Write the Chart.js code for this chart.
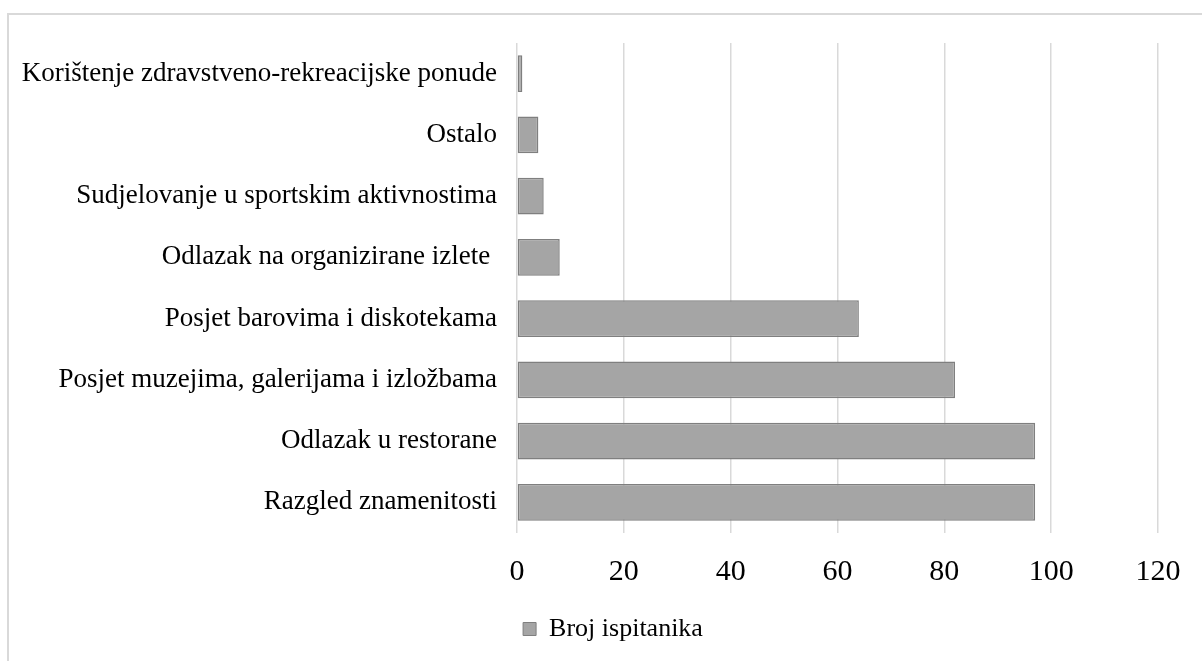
<!DOCTYPE html>
<html>
<head>
<meta charset="utf-8">
<script src="https://cdn.jsdelivr.net/npm/chart.js@4/dist/chart.umd.min.js"></script>
<style>
  html, body { margin: 0; padding: 0; background: #ffffff; overflow: hidden; }
  #frame { position: absolute; left: 7px; top: 13px; width: 1400px; height: 900px; border: 2px solid #d9d9d9; box-sizing: border-box; }
  #wrap { position: absolute; left: 0; top: 0; width: 1202px; height: 661px; }
</style>
</head>
<body>
<div id="frame"></div>
<div id="wrap"><canvas id="c" width="1202" height="661"></canvas></div>
<script>
const categories = [
  "Korištenje zdravstveno-rekreacijske ponude",
  "Ostalo",
  "Sudjelovanje u sportskim aktivnostima",
  "Odlazak na organizirane izlete ",
  "Posjet barovima i diskotekama",
  "Posjet muzejima, galerijama i izložbama",
  "Odlazak u restorane",
  "Razgled znamenitosti"
];
const seriesName = "Broj ispitanika";
const values = [1, 4, 5, 8, 64, 82, 97, 97];
const xTicks = [0, 20, 40, 60, 80, 100, 120];

const serif = "'Liberation Serif', 'Times New Roman', serif";

const legendShift = {
  id: 'legendShift',
  afterLayout(chart) {
    const l = chart.legend;
    if (l) { l.left += 34; l.right += 34; }
  }
};

new Chart(document.getElementById('c'), {
  type: 'bar',
  data: {
    labels: categories,
    datasets: [{
      label: seriesName,
      data: values,
      backgroundColor: '#a5a5a5',
      borderColor: '#7f7f7f',
      borderWidth: 1.5,
      borderSkipped: false,
      categoryPercentage: 1,
      barPercentage: 0.6
    }]
  },
  plugins: [legendShift],
  options: {
    indexAxis: 'y',
    responsive: false,
    animation: false,
    devicePixelRatio: 1,
    layout: { padding: { left: 0, right: 44, top: 43, bottom: 9 } },
    scales: {
      x: {
        min: xTicks[0],
        max: xTicks[xTicks.length - 1],
        afterBuildTicks: (s) => { s.ticks = xTicks.map(v => ({ value: v })); },
        grid: { color: '#d9d9d9', lineWidth: 1.5, drawTicks: false },
        border: { display: false },
        ticks: { font: { family: serif, size: 30 }, color: '#000', padding: 21, maxRotation: 0 },
        afterFit: (s) => { s.height = 73; }
      },
      y: {
        grid: { display: false, drawTicks: false },
        border: { display: false },
        ticks: { font: { family: serif, size: 27 }, color: '#000', padding: 20, autoSkip: false },
        afterFit: (s) => { s.width = 517; }
      }
    },
    plugins: {
      legend: {
        position: 'bottom',
        labels: {
          font: { family: serif, size: 26 },
          color: '#000',
          boxWidth: 13,
          boxHeight: 13,
          padding: 10,
          generateLabels: (chart) => {
            const ds = chart.data.datasets[0];
            return [{ text: ds.label, fillStyle: ds.backgroundColor, strokeStyle: ds.borderColor, lineWidth: 1, datasetIndex: 0, fontColor: '#000' }];
          }
        }
      },
      tooltip: { enabled: false }
    }
  }
});
</script>
</body>
</html>
